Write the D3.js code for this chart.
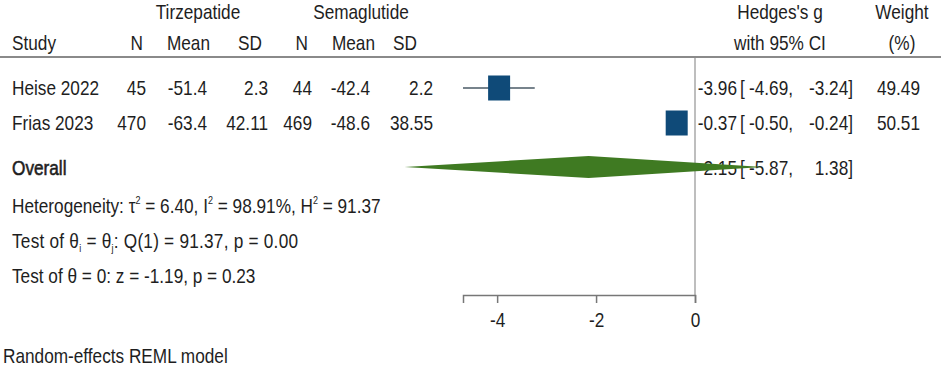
<!DOCTYPE html>
<html>
<head>
<meta charset="utf-8">
<script src="https://cdn.jsdelivr.net/npm/d3@7"></script>
<style>
  body { margin: 0; background: #fff; }
  text { font-family: "Liberation Sans", Arial, sans-serif; font-size: 21px; fill: #1e1e1e; white-space: pre; }
</style>
</head>
<body>
<svg id="chart"></svg>
<script>
const width = 941, height = 375;
const SX = 0.82; // text is drawn horizontally condensed

// data
const studies = ['Heise 2022', 'Frias 2023'];
const tirzN = [45, 470];
const tirzMean = [-51.4, -63.4];
const tirzSD = [2.3, 42.11];
const semaN = [44, 469];
const semaMean = [-42.4, -48.6];
const semaSD = [2.2, 38.55];
const effect = [-3.96, -0.37];
const ciLow = [-4.69, -0.50];
const ciHigh = [-3.24, -0.24];
const weight = [49.49, 50.51];
const overall = { est: -2.15, lo: -5.87, hi: 1.38 };
const axisTicks = [-4, -2, 0];

const svg = d3.select('#chart')
  .attr('width', width)
  .attr('height', height);

// scales
const x = d3.scaleLinear().domain([d3.min(ciLow), 0]).range([463, 695]);
const y = d3.scalePoint().domain(studies).range([88, 123]);
const overallY = 167;
const axisY = 295;

// header rule
svg.append('line')
  .attr('x1', 0).attr('x2', width)
  .attr('y1', 57).attr('y2', 57)
  .attr('stroke', '#8a8a8a').attr('stroke-width', 2);

// null line
svg.append('line')
  .attr('x1', x(0)).attr('x2', x(0))
  .attr('y1', 58).attr('y2', axisY)
  .attr('stroke', '#a8a8a8').attr('stroke-width', 1.5);

// text helpers
const tg = svg.append('g').attr('transform', `scale(${SX},1)`);
const txt = (px, py, s, anchor = 'start') =>
  tg.append('text').attr('x', px / SX).attr('y', py).attr('text-anchor', anchor).text(s);

// headers
txt(198, 19, 'Tirzepatide', 'middle');
txt(361, 19, 'Semaglutide', 'middle');
txt(780, 19, "Hedges's g", 'middle');
txt(902, 19, 'Weight', 'middle');
txt(12, 50, 'Study');
txt(143, 50, 'N', 'end');
txt(210, 50, 'Mean', 'end');
txt(262, 50, 'SD', 'end');
txt(308, 50, 'N', 'end');
txt(375, 50, 'Mean', 'end');
txt(417, 50, 'SD', 'end');
txt(780, 50, 'with 95% CI', 'middle');
txt(902, 50, '(%)', 'middle');

// study rows text
studies.forEach((s, i) => {
  const by = y(s) + 7;
  txt(12, by, s);
  txt(146, by, tirzN[i], 'end');
  txt(207, by, tirzMean[i].toFixed(1), 'end');
  txt(268, by, String(tirzSD[i]), 'end');
  txt(312, by, semaN[i], 'end');
  txt(370, by, semaMean[i].toFixed(1), 'end');
  txt(433, by, String(semaSD[i]), 'end');
  txt(737, by, effect[i].toFixed(2), 'end');
  txt(740, by, '[');
  txt(793, by, ciLow[i].toFixed(2) + ',', 'end');
  txt(853, by, ciHigh[i].toFixed(2) + ']', 'end');
  txt(920, by, weight[i].toFixed(2), 'end');
});

// overall text
const oy = overallY + 8;
txt(12, oy, 'Overall').style('stroke', '#1e1e1e').style('stroke-width', 0.6);
txt(737, oy, overall.est.toFixed(2), 'end');
txt(740, oy, '[');
txt(793, oy, overall.lo.toFixed(2) + ',', 'end');
txt(853, oy, overall.hi.toFixed(2) + ']', 'end');

// heterogeneity lines
const het = txt(12, 213, 'Heterogeneity: \u03c4');
het.append('tspan').attr('dy', -9).style('font-size', '11px').text('2');
het.append('tspan').attr('dy', 9).text(' = 6.40, I');
het.append('tspan').attr('dy', -9).style('font-size', '11px').text('2');
het.append('tspan').attr('dy', 9).text(' = 98.91%, H');
het.append('tspan').attr('dy', -9).style('font-size', '11px').text('2');
het.append('tspan').attr('dy', 9).text(' = 91.37');

const t1 = txt(12, 248, 'Test of \u03b8')
  .attr('textLength', 286 / SX)
  .attr('lengthAdjust', 'spacing');
t1.append('tspan').attr('dy', 4).style('font-size', '11px').text('i');
t1.append('tspan').attr('dy', -4).text(' = \u03b8');
t1.append('tspan').attr('dy', 4).style('font-size', '11px').text('j');
t1.append('tspan').attr('dy', -4).text(': Q(1) = 91.37, p = 0.00');

txt(12, 283, 'Test of \u03b8 = 0: z = -1.19, p = 0.23');
txt(3, 363, 'Random-effects REML model');

// CI lines
svg.selectAll('.ci')
  .data(studies)
  .enter()
  .append('line')
  .attr('class', 'ci')
  .attr('x1', (d, i) => x(ciLow[i]))
  .attr('x2', (d, i) => x(ciHigh[i]))
  .attr('y1', d => y(d))
  .attr('y2', d => y(d))
  .attr('stroke', '#4a5a66')
  .attr('stroke-width', 1.5);

// study squares
const sq = 22, sqH = 25;
svg.selectAll('.box')
  .data(studies)
  .enter()
  .append('rect')
  .attr('class', 'box')
  .attr('x', (d, i) => x(effect[i]) - sq / 2)
  .attr('y', d => y(d) - sqH / 2)
  .attr('width', sq)
  .attr('height', sqH)
  .attr('fill', '#0f4a78');

// overall diamond
const dh = 11;
svg.append('polygon')
  .attr('points', [
    [x(overall.lo), overallY],
    [x(overall.est), overallY - dh],
    [x(overall.hi), overallY],
    [x(overall.est), overallY + dh]
  ].map(p => p.join(',')).join(' '))
  .attr('fill', '#3f7a22');

// axis
const axis = svg.append('g')
  .attr('transform', `translate(0,${axisY})`)
  .call(d3.axisBottom(x).tickValues(axisTicks).tickSizeOuter(0).tickSize(8).tickFormat(d3.format('d')));
axis.select('.domain').attr('stroke', '#777').attr('stroke-width', 1.5);
axis.selectAll('.tick line').attr('stroke', '#777').attr('stroke-width', 1.5);
axis.selectAll('.tick text')
  .attr('y', 32)
  .attr('dy', 0)
  .attr('transform', `scale(${SX},1)`)
  .style('font-family', '"Liberation Sans", Arial, sans-serif')
  .style('font-size', '21px')
  .style('fill', '#1e1e1e')
  .text(d => d === 0 ? '0' : '-' + Math.abs(d));
</script>
</body>
</html>
